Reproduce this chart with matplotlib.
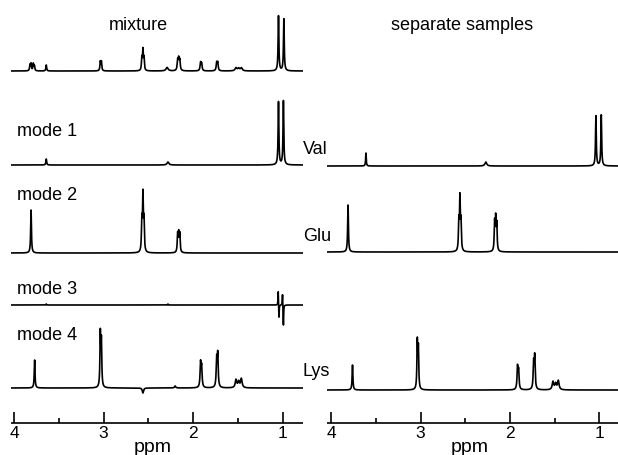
import numpy as np
import matplotlib
matplotlib.use("Agg")
import matplotlib.pyplot as plt

plt.rcParams['font.family'] = ['Liberation Sans', 'DejaVu Sans']

# peak lists: position (ppm), height (arbitrary units, ~pixels), half width (ppm)
mix_ppm = [3.822, 3.81, 3.785, 3.773, 3.64, 3.036, 3.024, 2.572, 2.56, 2.548, 2.29,
           2.172, 2.16, 2.148, 1.916, 1.904, 1.736, 1.724, 1.52, 1.49, 1.46, 1.045, 0.985]
mix_h = [6, 7, 7, 5, 6, 9, 9, 12, 20, 12, 3.5,
         10, 11, 10, 8, 7, 8, 8, 3, 2.5, 3, 55, 52]
mix_w = [.005, .005, .005, .005, .005, .005, .005, .005, .005, .005, .014,
         .006, .006, .006, .006, .006, .006, .006, .012, .012, .012, .005, .005]

mode1_ppm = [3.64, 2.28, 1.045, 0.99]
mode1_h = [6, 3, 63, 64]
mode1_w = [.005, .012, .005, .005]

val_ppm = [3.61, 2.27, 1.04, 0.98]
val_h = [13, 4, 50, 51]
val_w = [.004, .012, .005, .005]

mode2_ppm = [3.81, 2.572, 2.56, 2.548, 2.172, 2.16, 2.148]
mode2_h = [43, 30, 55, 30, 18, 18, 18]

glu_ppm = [3.81, 2.572, 2.56, 2.548, 2.172, 2.16, 2.148]
glu_h = [47, 28, 51, 28, 28, 31, 26]

mode3_ppm = [3.64, 2.28, 1.048, 1.04, 1.0, 0.99]
mode3_h = [1, 1, 15, -14, 12, -21]

mode4_ppm = [3.77, 3.036, 3.024, 2.56, 2.20, 1.916, 1.904, 1.736, 1.724, 1.52, 1.49, 1.46]
mode4_h = [28, 53, 45, -5, 2, 24, 20, 27, 32, 8, 6, 9]
mode4_w = [.005, .005, .005, .008, .008, .006, .006, .006, .006, .01, .01, .01]

lys_ppm = [3.76, 3.036, 3.024, 1.916, 1.904, 1.736, 1.724, 1.52, 1.49, 1.46]
lys_h = [25, 47, 40, 22, 18, 25, 32, 8, 6, 9]
lys_w = [.005, .005, .005, .006, .006, .006, .006, .01, .01, .01]

ppm_ticks = [4, 3, 2, 1]
minor_ticks = [3.5, 2.5, 1.5]

W, H = 618, 455
fig = plt.figure(figsize=(W / 100, H / 100), dpi=100)


def lorentz(x, pos, hts, widths=None, w=0.005):
    if widths is None:
        widths = [w] * len(pos)
    y = np.zeros_like(x)
    for p, h, ww in zip(pos, hts, widths):
        y += h * ww ** 2 / ((x - p) ** 2 + ww ** 2)
    return y


def make_ax(x0, x1, left_ppm, right_ppm):
    ax = fig.add_axes([x0 / W, 0, (x1 - x0) / W, 1])
    ax.set_xlim(left_ppm, right_ppm)
    ax.set_ylim(H, 0)
    ax.axis('off')
    return ax


def draw_axis(ax, y, xc):
    lo, hi = ax.get_xlim()
    ax.plot([lo, hi], [y, y], color='black', lw=1.2)
    ax.vlines(ppm_ticks, y - 11, y, color='black', lw=1.2)
    ax.vlines(minor_ticks, y - 5, y, color='black', lw=1.2)
    for t in ppm_ticks:
        ax.text(t, y + 11, str(t), ha='center', va='center', fontsize=12.5)
    ax.text(xc, y + 24, 'ppm', ha='center', va='center', fontsize=14)


axL = make_ax(11, 303, 4.034, 0.771)
axR = make_ax(327, 618, 4.045, 0.793)

x = np.linspace(4.05, 0.75, 8000)
lw = 1.2

axL.plot(x, 71 - lorentz(x, mix_ppm, mix_h, mix_w), color='black', lw=lw)
axL.plot(x, 165 - lorentz(x, mode1_ppm, mode1_h, mode1_w), color='black', lw=lw)
axL.plot(x, 253 - lorentz(x, mode2_ppm, mode2_h), color='black', lw=lw)
axL.plot(x, 305 - lorentz(x, mode3_ppm, mode3_h, w=0.003), color='black', lw=lw)
axL.plot(x, 388 - lorentz(x, mode4_ppm, mode4_h, mode4_w), color='black', lw=lw)

axR.plot(x, 166 - lorentz(x, val_ppm, val_h, val_w), color='black', lw=lw)
axR.plot(x, 252 - lorentz(x, glu_ppm, glu_h), color='black', lw=lw)
axR.plot(x, 390 - lorentz(x, lys_ppm, lys_h, lys_w), color='black', lw=lw)

draw_axis(axL, 423, 2.45)
draw_axis(axR, 423, 2.45)

fig.text(138 / W, 1 - 25 / H, 'mixture', ha='center', va='center', fontsize=13)
fig.text(462 / W, 1 - 25 / H, 'separate samples', ha='center', va='center', fontsize=13)
for lab, yy in [('mode 1', 131), ('mode 2', 196), ('mode 3', 290), ('mode 4', 336)]:
    fig.text(17 / W, 1 - yy / H, lab, ha='left', va='center', fontsize=13)
for lab, yy in [('Val', 150), ('Glu', 236), ('Lys', 371)]:
    fig.text(303 / W, 1 - yy / H, lab, ha='left', va='center', fontsize=13)

fig.savefig('out.png', dpi=100)
